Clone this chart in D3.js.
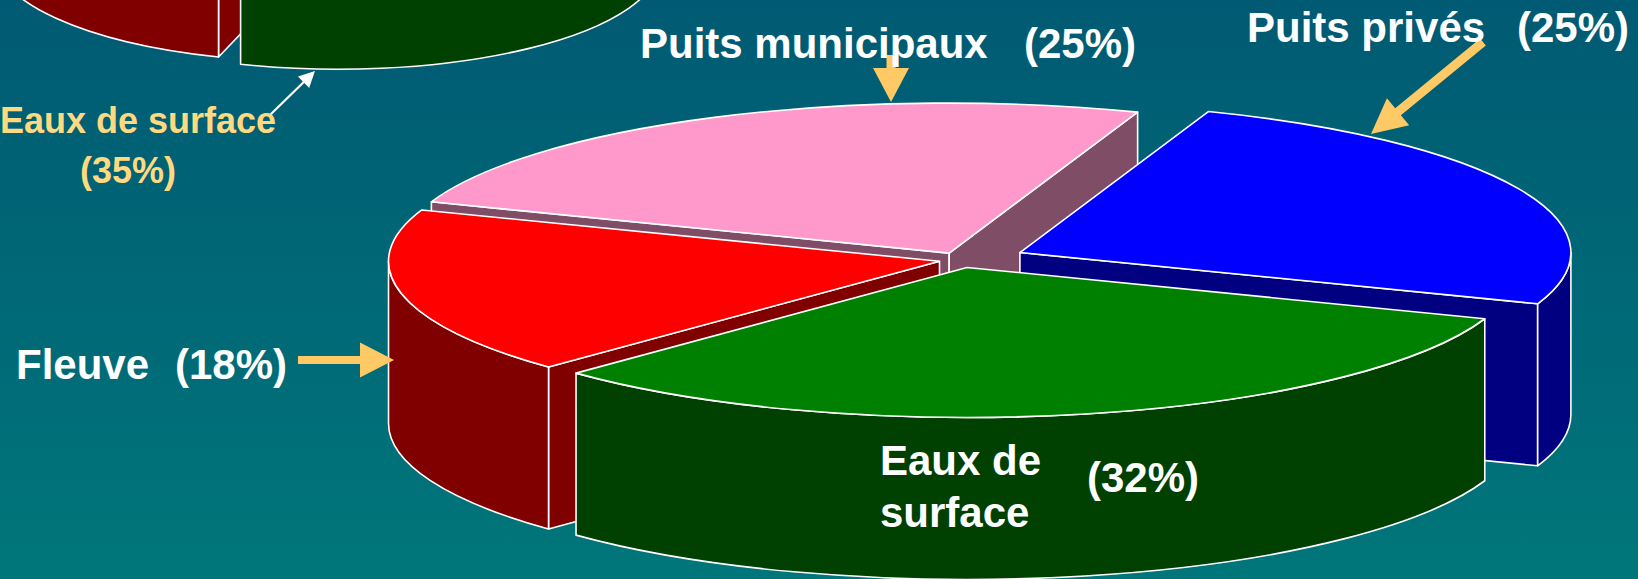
<!DOCTYPE html>
<html><head><meta charset="utf-8">
<script src="https://cdn.jsdelivr.net/npm/d3@7"></script>
<style>html,body{margin:0;padding:0;overflow:hidden;background:#00677A}</style>
</head><body>
<script>
// ---- main pie data ----
const categories = ["Puits municipaux", "Puits privés", "Eaux de surface", "Fleuve"];
const values = [25, 25, 32, 18];
const pctLabels = ["(25%)", "(25%)", "(32%)", "(18%)"];
const topColors = ["#FF99CC", "#0000FF", "#008000", "#FF0000"];
const sideColors = ["#804D66", "#000080", "#004000", "#800000"];
const explode = [28, 65, 28, 22];

// ---- partially visible previous pie (top-left) ----
const prevCategories = ["Eaux de surface", "Autres"];
const prevValues = [35, 65];
const prevPctLabels = ["(35%)", ""];
const prevTopColors = ["#008000", "#FF0000"];
const prevSideColors = ["#004000", "#800000"];
const prevExplode = [14, 17];

const W = 1638, H = 579;
const svg = d3.select("body").append("svg").attr("width", W).attr("height", H);
const defs = svg.append("defs");
const grad = defs.append("linearGradient").attr("id", "bg").attr("x1", 0).attr("y1", 0).attr("x2", 0).attr("y2", 1);
grad.append("stop").attr("offset", "0%").attr("stop-color", "#005A73");
grad.append("stop").attr("offset", "100%").attr("stop-color", "#00767A");
svg.append("rect").attr("width", W).attr("height", H).attr("fill", "url(#bg)");

function drawPie(g, cfg, vals, tops, sides, expl) {
  const s0 = (cfg.start + 90) * Math.PI / 180;
  const arcs = d3.pie().value(d => d).sort(null).startAngle(s0).endAngle(s0 + 2 * Math.PI)(vals);
  const k = cfg.ry / cfg.rx;
  const slices = arcs.map((a, i) => {
    const s = a.startAngle - Math.PI / 2, e = a.endAngle - Math.PI / 2, m = (s + e) / 2;
    const cx = cfg.cx + expl[i] * Math.cos(m), cy = cfg.cy + expl[i] * Math.sin(m) * k;
    return { i, s, e, m, cx, cy, depth: cy + Math.sin(m) * cfg.ry };
  }).sort((a, b) => a.depth - b.depth);

  const P = (sl, t, z) => [sl.cx + cfg.rx * Math.cos(t), sl.cy + cfg.ry * Math.sin(t) + z];
  const h = cfg.h, rx = cfg.rx, ry = cfg.ry;
  const style = sel => sel.attr("stroke", "#FFFFFF").attr("stroke-width", 1.6).attr("stroke-linejoin", "round");

  slices.forEach(sl => {
    const sg = g.append("g");
    const side = sides[sl.i];
    const face = t => {
      const a = P(sl, t, 0), b = P(sl, t, h);
      return `M${sl.cx},${sl.cy}L${a}L${b}L${sl.cx},${sl.cy + h}Z`;
    };
    if (Math.cos(sl.s) < 0) style(sg.append("path").attr("d", face(sl.s)).attr("fill", side));
    if (Math.cos(sl.e) > 0) style(sg.append("path").attr("d", face(sl.e)).attr("fill", side));
    for (let kk = -2; kk <= 2; kk++) {
      const lo = Math.max(sl.s, 2 * Math.PI * kk), hi = Math.min(sl.e, 2 * Math.PI * kk + Math.PI);
      if (hi > lo + 1e-6) {
        const a = P(sl, lo, 0), b = P(sl, hi, 0), c = P(sl, hi, h), d = P(sl, lo, h);
        style(sg.append("path")
          .attr("d", `M${a}A${rx},${ry} 0 0 1 ${b}L${c}A${rx},${ry} 0 0 0 ${d}Z`)
          .attr("fill", side));
      }
    }
    const a = P(sl, sl.s, 0), b = P(sl, sl.e, 0);
    const large = (sl.e - sl.s) > Math.PI ? 1 : 0;
    style(sg.append("path")
      .attr("d", `M${sl.cx},${sl.cy}L${a}A${rx},${ry} 0 ${large} 1 ${b}Z`)
      .attr("fill", tops[sl.i]));
  });
}

// previous pie (only its lower walls are in view)
drawPie(svg.append("g"), { cx: 328, cy: -151, rx: 322, ry: 107, h: 110, start: -18.4 },
  prevValues, prevTopColors, prevSideColors, prevExplode);
// main pie
drawPie(svg.append("g"), { cx: 961, cy: 260, rx: 551, ry: 150, h: 162, start: 200 },
  values, topColors, sideColors, explode);

// ---- arrows ----
function arrow(g, x1, y1, x2, y2, shaft, headL, headW, color) {
  const dx = x2 - x1, dy = y2 - y1, L = Math.hypot(dx, dy);
  const ux = dx / L, uy = dy / L, nx = -uy, ny = ux;
  const bx = x2 - ux * headL, by = y2 - uy * headL;
  const pts = [
    [x1 + nx * shaft / 2, y1 + ny * shaft / 2],
    [bx + nx * shaft / 2, by + ny * shaft / 2],
    [bx + nx * headW / 2, by + ny * headW / 2],
    [x2, y2],
    [bx - nx * headW / 2, by - ny * headW / 2],
    [bx - nx * shaft / 2, by - ny * shaft / 2],
    [x1 - nx * shaft / 2, y1 - ny * shaft / 2]
  ];
  g.append("polygon").attr("points", pts.map(p => p.join(",")).join(" ")).attr("fill", color);
}
const ag = svg.append("g");
arrow(ag, 298, 360, 394, 360, 8, 34, 35, "#FFC966");
arrow(ag, 891, 55, 891, 102, 9, 34, 36, "#FFC966");
arrow(ag, 1483, 42, 1371, 134, 9, 35, 35, "#FFC966");
arrow(ag, 270, 115, 315, 71, 2.2, 16, 16, "#FFFFFF");

// ---- labels ----
const font = "'Liberation Sans', Arial, Helvetica, sans-serif";
const lg = svg.append("g").attr("font-family", font).attr("font-weight", "bold");
function label(t, x, y, size, color) {
  lg.append("text").attr("x", x).attr("y", y).attr("font-size", size).attr("fill", color).text(t);
}
label(categories[0], 640, 58, 42, "#FFFFFF");
label(pctLabels[0], 1024, 58, 42, "#FFFFFF");
label(categories[1], 1247, 42, 42, "#FFFFFF");
label(pctLabels[1], 1517, 42, 42, "#FFFFFF");
const surfWords = categories[2].split(" ");
label(surfWords.slice(0, -1).join(" "), 880, 475, 42, "#FFFFFF");
label(surfWords[surfWords.length - 1], 880, 527, 42, "#FFFFFF");
label(pctLabels[2], 1087, 492, 42, "#FFFFFF");
label(categories[3], 16, 379, 42, "#FFFFFF");
label(pctLabels[3], 175, 379, 42, "#FFFFFF");
label(prevCategories[0], 0, 133, 36, "#FFD980");
label(prevPctLabels[0], 80, 183, 36, "#FFD980");
</script>
</body></html>
